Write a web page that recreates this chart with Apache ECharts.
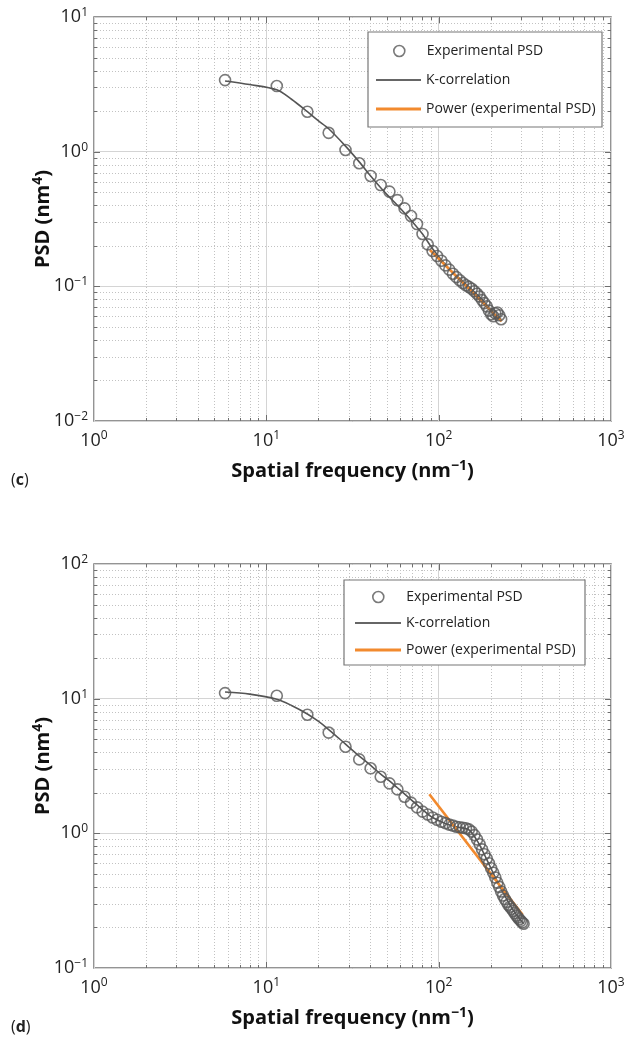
<!DOCTYPE html>
<html>
<head>
<meta charset="utf-8">
<title>PSD fits</title>
<script src="https://cdn.jsdelivr.net/npm/echarts@6/dist/echarts.min.js"></script>
<style>
html, body { margin: 0; padding: 0; background: #fff; }
#chart { width: 629px; height: 1046px; }
</style>
</head>
<body>
<div id="chart"></div>
<script>
// ---- panel (c) ----
var freqC = [5.76, 11.5, 17.3, 23.0, 28.8, 34.6, 40.3, 46.1, 51.8, 57.6,
             63.4, 69.1, 74.9, 80.6, 86.4, 92.2, 97.9, 103.7, 109.4, 115.2,
             121.0, 126.7, 132.5, 138.2, 144.0, 149.8, 155.5, 161.3, 167.0, 172.8,
             178.6, 184.3, 190.1, 195.8, 201.6, 207.4, 213.1, 218.9, 224.6, 230.4];
var psdC = [3.40, 3.07, 1.98, 1.38, 1.03, 0.82, 0.66, 0.565, 0.505, 0.437,
            0.379, 0.333, 0.290, 0.245, 0.205, 0.183, 0.168, 0.155, 0.143, 0.133,
            0.124, 0.117, 0.111, 0.106, 0.102, 0.099, 0.096, 0.092, 0.088, 0.084,
            0.079, 0.075, 0.071, 0.066, 0.062, 0.060, 0.063, 0.064, 0.061, 0.057];
var kcFreqC = [5.76, 8, 11.5, 14, 17.3, 20, 23, 28.8, 34.6, 40.3, 46.1, 51.8, 57.6,
               69.1, 80.6, 92.2, 115, 150, 180, 210, 230.4];
var kcC = [3.35, 3.15, 2.88, 2.45, 1.98, 1.70, 1.48, 1.10, 0.84, 0.66, 0.54, 0.46, 0.40,
           0.31, 0.245, 0.190, 0.135, 0.099, 0.079, 0.062, 0.057];
var powFreqC = [89, 232];
var powC = [0.186, 0.055];

// ---- panel (d) ----
var freqD = [5.76, 11.5, 17.3, 23.0, 28.8, 34.6, 40.3, 46.1, 51.8, 57.6,
             63.4, 69.1, 74.9, 80.6, 86.4, 92.2, 97.9, 103.7, 109.4, 115.2,
             121.0, 126.7, 132.5, 138.2, 144.0, 149.8, 155.5, 161.3, 167.0, 172.8,
             178.6, 184.3, 190.1, 195.8, 201.6, 207.4, 213.1, 218.9, 224.6, 230.4,
             236.2, 241.9, 247.7, 253.4, 259.2, 265.0, 270.7, 276.5, 282.2, 288.0,
             293.8, 299.5, 305.3, 311.0];
var psdD = [11.0, 10.5, 7.6, 5.6, 4.4, 3.54, 3.04, 2.63, 2.35, 2.12,
            1.87, 1.69, 1.56, 1.45, 1.38, 1.31, 1.26, 1.22, 1.19, 1.16,
            1.14, 1.12, 1.11, 1.10, 1.09, 1.07, 1.03, 0.97, 0.90, 0.83,
            0.76, 0.70, 0.65, 0.60, 0.55, 0.51, 0.47, 0.43, 0.40, 0.37,
            0.345, 0.325, 0.310, 0.295, 0.285, 0.275, 0.265, 0.255, 0.245, 0.237,
            0.230, 0.224, 0.218, 0.213];
var kcFreqD = [5.76, 8, 11.5, 14, 17.3, 20, 23, 28.8, 34.6, 40.3, 46.1, 51.8, 57.6,
               69.1, 80.6, 92.2, 110, 130, 150, 170, 190, 210, 240, 270, 311];
var kcD = [11.2, 10.8, 9.9, 8.9, 7.7, 6.8, 5.9, 4.6, 3.75, 3.2, 2.75, 2.45, 2.18,
           1.78, 1.50, 1.31, 1.18, 1.11, 1.06, 0.85, 0.64, 0.49, 0.35, 0.27, 0.213];
var powFreqD = [88.3, 307];
var powD = [1.95, 0.248];

var FONT = 'Open Sans';

function pairs(xs, ys) {
  return xs.map(function (x, i) { return [x, ys[i]]; });
}

// minor grid / tick positions 2..9 x 10^k, decades flagged as major
function guideData(xMin, xMax, yMin, yMax) {
  var out = [];
  var d, m, v;
  for (d = xMin; d < xMax; d *= 10) {
    for (m = 1; m <= 9; m++) {
      v = d * m;
      if (v > xMin) out.push([v, yMin, 0, m === 1 ? 1 : 0]);
    }
  }
  for (d = yMin; d < yMax; d *= 10) {
    for (m = 1; m <= 9; m++) {
      v = d * m;
      if (v > yMin) out.push([xMin, v, 1, m === 1 ? 1 : 0]);
    }
  }
  return out;
}

function renderGuides(params, api) {
  var cs = params.coordSys;
  var kind = api.value(2);
  var major = api.value(3) === 1;
  var len = major ? 6 : 3;
  var dotted = { stroke: '#c2c2c2', lineWidth: 1, lineDash: [1, 2] };
  var tick = { stroke: '#6e6e6e', lineWidth: 1 };
  var kids = [];
  var p = api.coord([api.value(0), api.value(1)]);
  if (kind === 0) {
    var x = Math.round(p[0]) + 0.5;
    if (!major) kids.push({ type: 'line', shape: { x1: x, y1: cs.y, x2: x, y2: cs.y + cs.height }, style: dotted });
    kids.push({ type: 'line', shape: { x1: x, y1: cs.y + cs.height, x2: x, y2: cs.y + cs.height - len }, style: tick });
    kids.push({ type: 'line', shape: { x1: x, y1: cs.y, x2: x, y2: cs.y + len }, style: tick });
  } else {
    var y = Math.round(p[1]) + 0.5;
    if (!major) kids.push({ type: 'line', shape: { x1: cs.x, y1: y, x2: cs.x + cs.width, y2: y }, style: dotted });
    kids.push({ type: 'line', shape: { x1: cs.x, y1: y, x2: cs.x + len, y2: y }, style: tick });
    kids.push({ type: 'line', shape: { x1: cs.x + cs.width, y1: y, x2: cs.x + cs.width - len, y2: y }, style: tick });
  }
  return { type: 'group', children: kids };
}

function powLabel(v) {
  var e = Math.round(Math.log10(v));
  return '{b|10}{s|' + (e < 0 ? '\u2212' + (-e) : e) + '}';
}

var tickRich = {
  b: { fontFamily: FONT, fontSize: 18, color: '#222' },
  s: { fontFamily: FONT, fontSize: 12, color: '#222', padding: [0, 0, 9, 0] }
};
var nameRich = {
  b: { fontFamily: FONT, fontSize: 20, fontWeight: 'bold', color: '#111' },
  s: { fontFamily: FONT, fontSize: 14, fontWeight: 'bold', color: '#111', padding: [0, 0, 11, 0] }
};

function xAxisFor(gi) {
  return {
    gridIndex: gi, type: 'log', logBase: 10, min: 1, max: 1000,
    name: '{b|Spatial frequency (nm}{s|\u22121}{b|)}',
    nameLocation: 'middle', nameGap: 38, nameMoveOverlap: false,
    nameTextStyle: { rich: nameRich },
    axisLine: { show: false }, axisTick: { show: false },
    axisLabel: { formatter: powLabel, margin: 9, rich: tickRich },
    splitLine: { show: true, lineStyle: { color: '#d4d4d4', width: 1 } }
  };
}
function yAxisFor(gi, lo, hi) {
  return {
    gridIndex: gi, type: 'log', logBase: 10, min: lo, max: hi,
    name: '{b|PSD (nm}{s|4}{b|)}',
    nameLocation: 'middle', nameGap: 38, nameMoveOverlap: false,
    nameTextStyle: { rich: nameRich },
    axisLine: { show: false }, axisTick: { show: false },
    axisLabel: { formatter: powLabel, margin: 6, rich: tickRich },
    splitLine: { show: true, lineStyle: { color: '#d4d4d4', width: 1 } }
  };
}

function seriesFor(gi, freq, psd, kcF, kc, powF, pw, box) {
  return [
    { type: 'custom', xAxisIndex: gi, yAxisIndex: gi, silent: true, z: 1,
      renderItem: renderGuides, data: guideData(1, 1000, box[0], box[1]) },
    { name: 'Experimental PSD', type: 'scatter', xAxisIndex: gi, yAxisIndex: gi, z: 2,
      symbol: 'circle', symbolSize: 11,
      itemStyle: { color: 'rgba(0,0,0,0)', borderColor: '#585858', borderWidth: 1.6 },
      data: pairs(freq, psd) },
    { name: 'K-correlation', type: 'line', xAxisIndex: gi, yAxisIndex: gi, z: 2,
      symbol: 'none', smooth: 0.3,
      lineStyle: { color: '#555', width: 1.6 }, itemStyle: { color: '#555' },
      data: pairs(kcF, kc) },
    { name: 'Power (experimental PSD)', type: 'line', xAxisIndex: gi, yAxisIndex: gi, z: 2,
      symbol: 'none',
      lineStyle: { color: '#f28a2e', width: 2.6 }, itemStyle: { color: '#f28a2e' },
      data: pairs(powF, pw) }
  ];
}

var legendText = { fontFamily: FONT, fontSize: 14, color: '#222', lineHeight: 16 };
function legendRow(name, left, top, w, h, style) {
  return {
    data: [name], left: left, top: top, padding: 0,
    itemWidth: w, itemHeight: h, itemGap: 0,
    icon: style.icon, itemStyle: style.item,
    textStyle: legendText, selectedMode: false
  };
}
var circleIcon = { icon: 'circle', item: { color: 'rgba(0,0,0,0)', borderColor: '#585858', borderWidth: 1.6 } };
var grayIcon = { icon: 'rect', item: { color: '#666', borderWidth: 0 } };
var orangeIcon = { icon: 'rect', item: { color: '#f28a2e', borderWidth: 0 } };

var chart = echarts.init(document.getElementById('chart'), null, { renderer: 'canvas' });

var panelText = { fontFamily: FONT, fontSize: 16, fontWeight: 'normal', color: '#222',
                  rich: { b: { fontFamily: FONT, fontSize: 16, fontWeight: 'bold', color: '#222' } } };

var option = {
  animation: false,
  backgroundColor: '#fff',
  textStyle: { fontFamily: FONT },
  title: [
    { text: '({b|c})', left: 6, top: 467, textStyle: panelText },
    { text: '({b|d})', left: 6, top: 1014, textStyle: panelText }
  ],
  grid: [
    { left: 94, top: 17, width: 517, height: 404, show: true, borderColor: '#717171', borderWidth: 1.5, backgroundColor: 'transparent' },
    { left: 94, top: 564, width: 517, height: 404, show: true, borderColor: '#717171', borderWidth: 1.5, backgroundColor: 'transparent' }
  ],
  xAxis: [xAxisFor(0), xAxisFor(1)],
  yAxis: [yAxisFor(0, 0.01, 10), yAxisFor(1, 0.1, 100)],
  legend: [
    legendRow('Experimental PSD', 393, 43, 45, 11, circleIcon),
    legendRow('K-correlation', 376, 72, 45, 2, grayIcon),
    legendRow('Power (experimental PSD)', 376, 101, 45, 3, orangeIcon),
    legendRow('Experimental PSD', 372, 589, 46, 11, circleIcon),
    legendRow('K-correlation', 355, 615, 46, 2, grayIcon),
    legendRow('Power (experimental PSD)', 355, 642, 46, 3, orangeIcon)
  ],
  graphic: [
    { type: 'rect', z: 3, shape: { x: 368, y: 32, width: 234, height: 95 },
      style: { fill: '#fff', stroke: '#777', lineWidth: 1.2 } },
    { type: 'rect', z: 3, shape: { x: 344, y: 580, width: 241, height: 85 },
      style: { fill: '#fff', stroke: '#777', lineWidth: 1.2 } }
  ],
  series: seriesFor(0, freqC, psdC, kcFreqC, kcC, powFreqC, powC, [0.01, 10])
    .concat(seriesFor(1, freqD, psdD, kcFreqD, kcD, powFreqD, powD, [0.1, 100]))
};

chart.setOption(option);
</script>
</body>
</html>
